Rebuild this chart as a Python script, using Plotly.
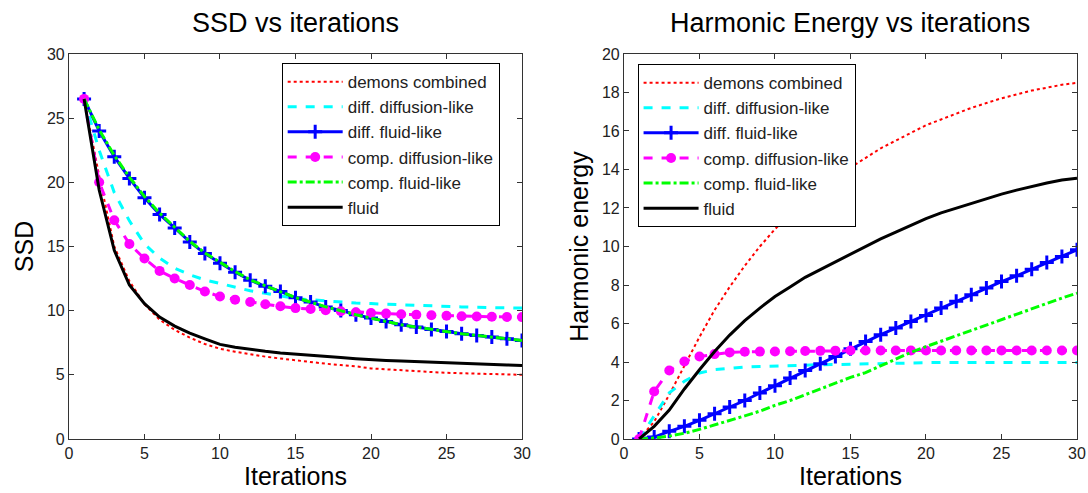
import plotly.graph_objects as go

iters = list(range(1, 31))

# SSD (left)
ssd_demons = [26.5, 20.5, 15.0, 12.3, 10.5, 9.3, 8.5, 7.9, 7.4, 7.03, 6.8, 6.6, 6.42, 6.27, 6.12,
              5.99, 5.87, 5.76, 5.66, 5.5, 5.42, 5.35, 5.28, 5.22, 5.16, 5.12, 5.08, 5.05, 5.02, 5.0]
ssd_diff_diffusion = [26.5, 22.5, 19.2, 17.0, 15.2, 14.1, 13.3, 12.8, 12.4, 12.1, 11.8, 11.55, 11.35, 11.15, 10.95,
                      10.85, 10.75, 10.67, 10.6, 10.55, 10.5, 10.45, 10.4, 10.36, 10.32, 10.29, 10.26, 10.24, 10.22, 10.2]
ssd_diff_fluid = [26.5, 24.0, 22.0, 20.3, 18.8, 17.5, 16.45, 15.36, 14.45, 13.7, 13.0, 12.37, 11.9, 11.5, 11.0,
                  10.67, 10.28, 10.02, 9.68, 9.42, 9.16, 8.9, 8.72, 8.54, 8.38, 8.2, 8.07, 7.94, 7.81, 7.68]
ssd_comp_diffusion = [26.5, 20.0, 17.05, 15.2, 14.06, 13.1, 12.5, 12.0, 11.5, 11.1, 10.86, 10.68, 10.5, 10.34, 10.2,
                      10.13, 10.03, 9.95, 9.87, 9.82, 9.77, 9.72, 9.68, 9.64, 9.6, 9.57, 9.55, 9.53, 9.51, 9.5]
ssd_comp_fluid = [26.5, 24.1, 22.1, 20.4, 18.9, 17.6, 16.5, 15.4, 14.5, 13.75, 13.05, 12.4, 11.93, 11.5, 11.02,
                  10.67, 10.3, 10.0, 9.68, 9.42, 9.16, 8.9, 8.72, 8.54, 8.38, 8.2, 8.07, 7.94, 7.81, 7.68]
ssd_fluid = [26.5, 19.4, 14.7, 12.0, 10.55, 9.5, 8.8, 8.25, 7.8, 7.37, 7.15, 6.98, 6.83, 6.7, 6.6,
             6.5, 6.42, 6.35, 6.26, 6.17, 6.12, 6.07, 6.02, 5.98, 5.94, 5.9, 5.86, 5.82, 5.77, 5.73]

# Harmonic energy (right)
he_demons = [0, 0.9, 2.3, 3.8, 5.3, 6.7, 7.9, 9.0, 10.0, 10.9, 11.7, 12.4, 13.0, 13.6, 14.1,
             14.6, 15.1, 15.5, 15.9, 16.3, 16.6, 16.9, 17.2, 17.45, 17.7, 17.9, 18.1, 18.25, 18.4, 18.5]
he_diff_diffusion = [0, 1.2, 2.4, 3.0, 3.43, 3.6, 3.68, 3.74, 3.77, 3.8, 3.82, 3.84, 3.86, 3.87, 3.89,
                     3.9, 3.92, 3.93, 3.95, 3.97, 3.98, 3.98, 3.98, 3.98, 3.98, 3.98, 3.98, 3.98, 3.98, 3.98]
he_diff_fluid = [0, 0.1, 0.4, 0.66, 0.97, 1.31, 1.66, 2.0, 2.39, 2.77, 3.17, 3.56, 3.91, 4.29, 4.69,
                 5.07, 5.42, 5.76, 6.11, 6.42, 6.8, 7.15, 7.49, 7.84, 8.18, 8.48, 8.82, 9.17, 9.48, 9.83]
he_comp_diffusion = [0, 2.47, 3.56, 4.03, 4.29, 4.41, 4.5, 4.53, 4.54, 4.55, 4.56, 4.57, 4.58, 4.59, 4.6,
                     4.6, 4.6, 4.6, 4.6, 4.6, 4.6, 4.6, 4.6, 4.6, 4.6, 4.6, 4.6, 4.6, 4.6, 4.6]
he_comp_fluid = [0, 0.05, 0.15, 0.3, 0.5, 0.72, 0.95, 1.2, 1.45, 1.75, 2.0, 2.3, 2.6, 2.9, 3.2,
                 3.45, 3.8, 4.15, 4.5, 4.8, 5.08, 5.38, 5.66, 5.95, 6.22, 6.5, 6.78, 7.05, 7.32, 7.58]
he_fluid = [0, 0.66, 1.5, 2.6, 3.6, 4.55, 5.4, 6.15, 6.8, 7.4, 7.9, 8.4, 8.8, 9.2, 9.6,
            10.0, 10.4, 10.75, 11.1, 11.45, 11.75, 12.0, 12.25, 12.5, 12.72, 12.93, 13.12, 13.3, 13.45, 13.55]

names = ["demons combined", "diff. diffusion-like", "diff. fluid-like",
         "comp. diffusion-like", "comp. fluid-like", "fluid"]

styles = [
    dict(line=dict(color="#ff0000", width=2, dash="dot"), mode="lines"),
    dict(line=dict(color="#00ffff", width=3, dash="dash"), mode="lines"),
    dict(line=dict(color="#0000ff", width=3), mode="lines+markers",
         marker=dict(symbol="cross-thin", size=10, line=dict(color="#0000ff", width=3))),
    dict(line=dict(color="#ff00ff", width=3, dash="dash"), mode="lines+markers",
         marker=dict(symbol="circle", size=10, color="#ff00ff")),
    dict(line=dict(color="#00ff00", width=3, dash="dashdot"), mode="lines"),
    dict(line=dict(color="#000000", width=3), mode="lines"),
]

left_series = [ssd_demons, ssd_diff_diffusion, ssd_diff_fluid, ssd_comp_diffusion, ssd_comp_fluid, ssd_fluid]
right_series = [he_demons, he_diff_diffusion, he_diff_fluid, he_comp_diffusion, he_comp_fluid, he_fluid]

fig = go.Figure()
for name, ys, st in zip(names, left_series, styles):
    fig.add_trace(go.Scatter(x=iters, y=ys, name=name, xaxis="x", yaxis="y", legend="legend", **st))
for name, ys, st in zip(names, right_series, styles):
    fig.add_trace(go.Scatter(x=iters, y=ys, name=name, xaxis="x2", yaxis="y2", legend="legend2", **st))

font_family = "Liberation Sans, Arial, sans-serif"
axis_common = dict(showline=True, linecolor="#333333", linewidth=1, mirror="allticks",
                   ticks="inside", ticklen=5, tickcolor="#333333", showgrid=False, zeroline=False,
                   automargin=False,
                   tickfont=dict(size=16, color="#222222", family=font_family))

legend_common = dict(bgcolor="white", bordercolor="black", borderwidth=1,
                     font=dict(size=17, color="#222222", family=font_family),
                     itemwidth=55, xanchor="left", yanchor="top", tracegroupgap=0)

title_font = dict(size=25, color="black", family=font_family)

fig.update_layout(
    template="none",
    width=1088, height=493,
    margin=dict(l=0, r=0, t=0, b=0),
    paper_bgcolor="white", plot_bgcolor="white",
    font=dict(family=font_family, color="black"),
    showlegend=True,
    xaxis=dict(domain=[0.0634, 0.4798], range=[0, 30], dtick=5, anchor="y",
               title=dict(text="Iterations", font=title_font, standoff=4), **axis_common),
    yaxis=dict(domain=[0.1095, 0.8905], range=[0, 30], dtick=5, anchor="x",
               title=dict(text="SSD", font=title_font, standoff=6), **axis_common),
    xaxis2=dict(domain=[0.5735, 0.9899], range=[0, 30], dtick=5, anchor="y2",
                title=dict(text="Iterations", font=title_font, standoff=4), **axis_common),
    yaxis2=dict(domain=[0.1095, 0.8905], range=[0, 20], dtick=2, anchor="x2",
                title=dict(text="Harmonic energy", font=title_font, standoff=6), **axis_common),
    legend=dict(x=0.2589, y=0.872, **legend_common),
    legend2=dict(x=0.586, y=0.870, **legend_common),
    annotations=[
        dict(text="SSD vs iterations", x=0.2716, y=1 - 23 / 493, xref="paper", yref="paper",
             xanchor="center", yanchor="middle",
             showarrow=False, font=dict(size=27, color="black", family=font_family)),
        dict(text="Harmonic Energy vs iterations", x=0.7816, y=1 - 23 / 493, xref="paper", yref="paper",
             xanchor="center", yanchor="middle",
             showarrow=False, font=dict(size=27, color="black", family=font_family)),
    ],
)

fig.write_html("out.html")
